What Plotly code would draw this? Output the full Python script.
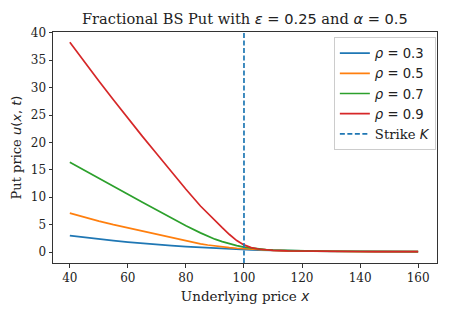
import plotly.graph_objects as go

x_vals = [40, 45, 50, 55, 60, 65, 70, 75, 80, 85, 87.5, 90, 92.5, 95, 97.5, 100,
          102.5, 105, 107.5, 110, 115, 120, 125, 130, 135, 140, 145, 150, 155, 160]
rho_03 = [3.0, 2.65, 2.35, 2.08, 1.82, 1.58, 1.38, 1.18, 1.0, 0.84, 0.76, 0.68, 0.61, 0.55, 0.49, 0.44,
          0.39, 0.35, 0.31, 0.28, 0.22, 0.18, 0.15, 0.13, 0.11, 0.10, 0.09, 0.08, 0.08, 0.07]
rho_05 = [7.1, 6.35, 5.65, 5.0, 4.4, 3.8, 3.2, 2.6, 2.0, 1.5, 1.28, 1.08, 0.92, 0.8, 0.69, 0.6,
          0.5, 0.42, 0.35, 0.3, 0.22, 0.17, 0.14, 0.12, 0.1, 0.09, 0.08, 0.08, 0.07, 0.07]
rho_07 = [16.4, 14.9, 13.45, 12.0, 10.55, 9.1, 7.65, 6.2, 4.8, 3.5, 2.9, 2.35, 1.9, 1.5, 1.18, 0.9,
          0.7, 0.55, 0.44, 0.36, 0.25, 0.2, 0.16, 0.14, 0.12, 0.11, 0.1, 0.09, 0.09, 0.08]
rho_09 = [38.3, 34.7, 31.2, 27.8, 24.4, 21.1, 17.9, 14.65, 11.45, 8.4, 7.05, 5.75, 4.45, 3.2, 2.1, 1.3,
          0.8, 0.55, 0.4, 0.32, 0.22, 0.17, 0.14, 0.12, 0.11, 0.1, 0.09, 0.09, 0.08, 0.08]
rho_values = ["0.3", "0.5", "0.7", "0.9"]
colors = ["#1f77b4", "#ff7f0e", "#2ca02c", "#d62728"]
strike = 100
x_ticks = [40, 60, 80, 100, 120, 140, 160]
y_ticks = [0, 5, 10, 15, 20, 25, 30, 35, 40]

serif = "DejaVu Serif"
SANS = "<span style='font-family:DejaVu Sans'>"
def m(sym, rest):
    return f"{SANS}<i>{sym}</i> = {rest}</span>"

fig = go.Figure()
for val, ys, c in zip(rho_values, [rho_03, rho_05, rho_07, rho_09], colors):
    fig.add_trace(go.Scatter(x=x_vals, y=ys, mode="lines", name=m("ρ", val),
                             line=dict(color=c, width=1.7)))
fig.add_trace(go.Scatter(x=[None], y=[None], mode="lines",
                         name=f"Strike {SANS}<i>K</i></span>",
                         line=dict(color="#1f77b4", width=1.7, dash="5px,2.5px")))
fig.add_shape(type="line", x0=strike, x1=strike, y0=0, y1=1, xref="x", yref="y domain",
              line=dict(color="#1f77b4", width=1.7, dash="5px,2.5px"))

axis_common = dict(showgrid=False, zeroline=False, showline=True, mirror=True, automargin=False,
                   linecolor="#333", linewidth=1, ticks="outside", ticklen=3.5,
                   tickcolor="#333", tickfont=dict(family=serif, size=12, color="#222"))
fig.update_xaxes(range=[34.2, 166.5], tickvals=x_ticks,
                 title=dict(text=f"Underlying price {SANS}<i>x</i></span>",
                            font=dict(family=serif, size=13.5, color="#222"), standoff=7),
                 **axis_common)
fig.update_yaxes(range=[-2.0, 40.15], tickvals=y_ticks,
                 title=dict(text=f"Put price {SANS}<i>u</i>(<i>x</i>, <i>t</i>)</span>",
                            font=dict(family=serif, size=13, color="#222"), standoff=6),
                 **axis_common)
fig.update_layout(
    width=451, height=310,
    margin=dict(l=53, r=14, t=32, b=47),
    plot_bgcolor="white", paper_bgcolor="white",
    title=dict(text=f"Fractional BS Put with {m('ε', '0.25')} and {m('α', '0.5')}",
               font=dict(family=serif, size=14.6, color="#222"), x=0.543, xanchor="center",
               y=0.94, yanchor="middle"),
    legend=dict(x=0.997, y=0.978, xanchor="right", yanchor="top", bgcolor="white",
                bordercolor="#ccc", borderwidth=1, font=dict(family=serif, size=13.2, color="#222"),
                tracegroupgap=0, itemwidth=30),
    showlegend=True,
)
fig.write_html("out.html", config={"displayModeBar": False},
               post_script="document.body.style.margin='0';document.body.style.padding='0';")
